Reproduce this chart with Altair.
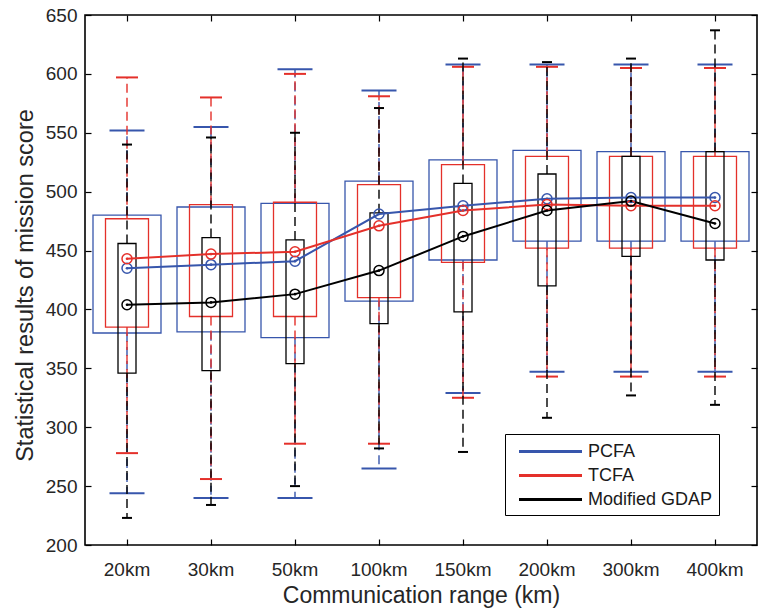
import altair as alt
import pandas as pd

cats = ["20km", "30km", "50km", "100km", "150km", "200km", "300km", "400km"]
series = ["PCFA", "TCFA", "Modified GDAP"]
colors = ["#3756AC", "#E4302A", "#000000"]

# PCFA
pcfa_box_hi = [480, 487, 490, 509, 527, 535, 534, 534]
pcfa_box_lo = [380, 381, 376, 407, 442, 458, 458, 458]
pcfa_cap_hi = [552, 555, 604, 586, 608, 608, 608, 608]
pcfa_cap_lo = [244, 240, 240, 265, 329, 347, 347, 347]
pcfa_mean = [435, 438, 441, 481, 488, 494, 495, 495]

# TCFA
tcfa_box_hi = [477, 489, 491, 506, 523, 530, 530, 530]
tcfa_box_lo = [385, 394, 394, 410, 440, 452, 452, 452]
tcfa_cap_hi = [597, 580, 600, 581, 606, 606, 605, 605]
tcfa_cap_lo = [278, 256, 286, 286, 325, 343, 343, 343]
tcfa_mean = [443, 447, 449, 471, 484, 489, 488, 488]

# Modified GDAP
gdap_box_hi = [456, 461, 459, 482, 507, 515, 530, 534]
gdap_box_lo = [346, 348, 354, 388, 398, 420, 445, 442]
gdap_cap_hi = [540, 546, 550, 571, 613, 610, 613, 637]
gdap_cap_lo = [223, 234, 250, 282, 279, 308, 327, 319]
gdap_mean = [404, 406, 413, 433, 462, 484, 492, 473]

y_ticks = [200, 250, 300, 350, 400, 450, 500, 550, 600, 650]

tables = {
    "PCFA": (pcfa_box_hi, pcfa_box_lo, pcfa_cap_hi, pcfa_cap_lo, pcfa_mean),
    "TCFA": (tcfa_box_hi, tcfa_box_lo, tcfa_cap_hi, tcfa_cap_lo, tcfa_mean),
    "Modified GDAP": (gdap_box_hi, gdap_box_lo, gdap_cap_hi, gdap_cap_lo, gdap_mean),
}
rows = []
for s in series:
    bh, bl, ch, cl, mn = tables[s]
    for i, c in enumerate(cats):
        rows.append(dict(cat=c, series=s, box_hi=bh[i], box_lo=bl[i],
                         cap_hi=ch[i], cap_lo=cl[i], mean=mn[i]))
df = pd.DataFrame(rows)

box_w = {"PCFA": 68, "TCFA": 43, "Modified GDAP": 18}
cap_w = {"PCFA": 35, "TCFA": 22, "Modified GDAP": 10}

xscale = alt.Scale(domain=cats, paddingInner=0, paddingOuter=0)
yscale = alt.Scale(domain=[200, 650], nice=False, zero=False)
cscale = alt.Scale(domain=series, range=colors)

def X(axis=None):
    return alt.X("cat:N", sort=cats, scale=xscale, axis=axis)

def Y(field, axis=None):
    return alt.Y(field, type="quantitative", scale=yscale, axis=axis)

base = alt.Chart(df)

axis_bottom = alt.Axis(orient="bottom", offset=-6, tickSize=6, tickWidth=1.2,
                       tickColor="black", domain=False, labelAngle=0, grid=False,
                       labelPadding=15, title="Communication range (km)",
                       titlePadding=5)
axis_left = alt.Axis(orient="left", offset=-6, tickSize=6, tickWidth=1.2,
                     tickColor="black", domain=False, values=y_ticks, grid=False,
                     labelPadding=8, title="Statistical results of mission score",
                     titlePadding=8, titleFontSize=23.5, titleY=270)
axis_top = alt.Axis(orient="top", offset=-6, tickSize=6, tickWidth=1.2, grid=False,
                    tickColor="black", domain=False, labels=False, title=None)
axis_right = alt.Axis(orient="right", offset=-6, tickSize=6, tickWidth=1.2, grid=False,
                      tickColor="black", domain=False, labels=False,
                      values=y_ticks, title=None)

layers = []
first = True
for s, col in zip(series, colors):
    sub = base.transform_filter(alt.datum.series == s)
    box = sub.mark_bar(size=box_w[s], fillOpacity=0, stroke=col, strokeWidth=1.3).encode(
        x=X(axis_bottom if first else None),
        y=Y("box_lo", axis_left if first else None),
        y2="box_hi:Q",
    )
    first = False
    wh_hi = sub.mark_rule(strokeWidth=1.4, strokeDash=[9, 5], color=col).encode(
        x=X(), y=Y("box_hi"), y2="cap_hi:Q")
    wh_lo = sub.mark_rule(strokeWidth=1.4, strokeDash=[9, 5], color=col).encode(
        x=X(), y=Y("box_lo"), y2="cap_lo:Q")
    cap_hi = sub.mark_tick(size=cap_w[s], thickness=2, color=col, opacity=1).encode(
        x=X(), y=Y("cap_hi"))
    cap_lo = sub.mark_tick(size=cap_w[s], thickness=2, color=col, opacity=1).encode(
        x=X(), y=Y("cap_lo"))
    layers += [box, wh_hi, wh_lo, cap_hi, cap_lo]

legend = alt.Legend(orient="none", legendX=420, legendY=419, title=None,
                    symbolType="M-0.35,0L5.95,0", symbolSize=400,
                    symbolStrokeWidth=3, labelOffset=54, labelFontSize=18,
                    labelFont="Liberation Sans", labelColor="#1a1a1a",
                    padding=6, rowPadding=3, strokeColor="black",
                    fillColor="white")

lines = base.mark_line(strokeWidth=2).encode(
    x=X(axis_top),
    y=Y("mean", axis_right),
    color=alt.Color("series:N", scale=cscale, legend=legend, sort=series),
)
layers.append(lines)
for s, col in zip(series, colors):
    sub = base.transform_filter(alt.datum.series == s)
    circles = sub.mark_point(shape="circle", size=100, filled=False, strokeWidth=1.5,
                             opacity=1, color=col).encode(x=X(), y=Y("mean"))
    dots = sub.mark_point(shape="circle", size=7, filled=True, opacity=1,
                          color=col).encode(x=X(), y=Y("mean"))
    layers += [circles, dots]

chart = alt.layer(*layers).resolve_axis(x="independent", y="independent").properties(
    width=672, height=530,
    autosize=alt.AutoSizeParams(type="none"),
    padding={"left": 85, "top": 15, "right": 7, "bottom": 70},
    background="white",
).configure_view(stroke="black", strokeWidth=1.6).configure_axis(
    labelFont="Liberation Sans", titleFont="Liberation Sans",
    labelFontSize=19, titleFontSize=23, titleFontWeight="normal",
    labelColor="#262626", titleColor="#262626", grid=False,
)

chart.save("out.html", embed_options={"renderer": "svg", "actions": False})
